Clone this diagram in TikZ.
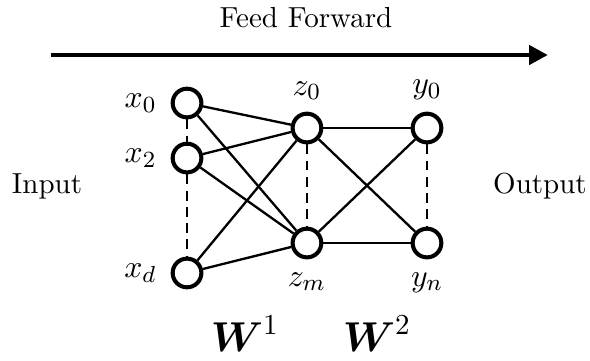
\documentclass[tikz,border=0pt]{standalone}
\usepackage{amsmath, amssymb}
\usepackage{tikz}
\usetikzlibrary{arrows.meta, positioning}
\tikzset{neuron/.style={circle, draw, line width=1.4pt, minimum size=9.9pt, inner sep=0pt},
  unitlabel/.style={font=\fontsize{11}{13}\selectfont},
  wire/.style={line width=0.8pt},
  gapline/.style={line width=0.85pt, dash pattern=on 3.4pt off 2.2pt}}
\begin{document}
\begin{tikzpicture}
\useasboundingbox (0,0) rectangle (7.152,4.364);
% ======== feed forward arrow ========
\coordinate (ffL) at (0.618,3.697);
\coordinate (ffR) at (6.642,3.697);
\draw[line width=1.6pt, -{Triangle[length=6.5pt, width=6.5pt]}] (ffL) -- (ffR);
\node[anchor=base] (ff) at (3.709,4.036) {Feed Forward};
% ======== neurons: input x, hidden z, output y ========
\node[neuron] (x0) at (2.267,3.115) {};
\node[neuron] (x2) at (2.267,2.448) {};
\node[neuron] (xd) at (2.267,1.055) {};
\node[neuron] (z0) at (3.721,2.812) {};
\node[neuron] (zm) at (3.721,1.418) {};
\node[neuron] (y0) at (5.176,2.812) {};
\node[neuron] (yn) at (5.176,1.418) {};
% labels
\node[unitlabel, left=1.3pt of x0] (lx0) {$x_0$};
\node[unitlabel, left=1.3pt of x2] (lx2) {$x_2$};
\node[unitlabel, left=1.3pt of xd] (lxd) {$x_d$};
\node[unitlabel, above=0.5pt of z0] (lz0) {$z_0$};
\node[unitlabel, below=1pt of zm] (lzm) {$z_m$};
\node[unitlabel, above=0.5pt of y0] (ly0) {$y_0$};
\node[unitlabel, below=1pt of yn] (lyn) {$y_n$};
% weights: full connections between layers
\foreach \a in {x0,x2,xd} \foreach \b in {z0,zm} \draw[wire] (\a) -- (\b);
\foreach \a in {z0,zm} \foreach \b in {y0,yn} \draw[wire] (\a) -- (\b);
% dashed: skipped units
\draw[gapline] (x0) -- (x2);
\draw[gapline] (x2) -- (xd);
\draw[gapline] (z0) -- (zm);
\draw[gapline] (y0) -- (yn);
% ======== side texts ========
\node[anchor=base] (inp) at (0.570,2.024) {Input};
\node[anchor=base] (outp) at (6.545,2.024) {Output};
\node[anchor=base, font=\Large] (w1) at (2.970,0.097) {$\boldsymbol{W}^1$};
\node[anchor=base, font=\Large] (w2) at (4.570,0.097) {$\boldsymbol{W}^2$};
\end{tikzpicture}
\end{document}
